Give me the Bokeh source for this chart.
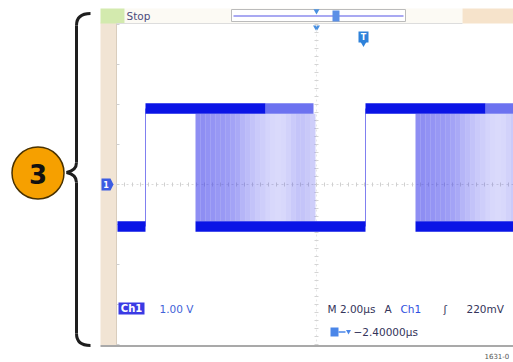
import numpy as np
from bokeh.plotting import figure
from bokeh.models import Range1d
from bokeh.embed import file_html
from bokeh.resources import INLINE
from bokeh.core.properties import value

# ---------------- data ----------------
# time in microseconds from the left screen edge, 2.00 us/div; volts at 1.00 V/div
t_rise = [1.45, 12.45]            # rising edges
t_fall_start = [3.95, 14.95]      # earliest falling edge (start of jitter band)
t_fade = [7.45, 18.45]            # high level starts to thin out
t_fall_end = [9.85, 20.85]        # latest falling edge
v_high = 1.90
v_low = -1.05
band = 0.13                       # half thickness of the persistence trace (V)
# persistence density across the falling-edge jitter band, 0.25 us steps
jitter_density = [0.58, 0.58, 0.56, 0.55, 0.53, 0.52, 0.50, 0.47, 0.44,
                  0.38, 0.34, 0.31, 0.27, 0.25, 0.22, 0.20, 0.19, 0.20,
                  0.23, 0.27, 0.30, 0.30, 0.28, 0.25]
jitter_step = 0.25

ch_scale = "1.00 V"
time_scale = "M 2.00\u00b5s"
trig_src = "Ch1"
trig_level = "220mV"
h_pos = "\u22122.40000\u00b5s"
status = "Stop"
callout = "3"
fig_id = "1631-0"

# ---------------- helpers: picture pixels -> data units ----------------
def X(px):
    return (px - 116) / 20.0

def Y(py):
    return (184 - py) / 40.0

W, H = 513, 362
p = figure(width=W, height=H, output_backend="svg", toolbar_location=None,
           x_range=Range1d(X(0), X(513)), y_range=Range1d(Y(362), Y(0)),
           x_axis_location=None, y_axis_location=None, min_border=0)
p.grid.visible = False
p.outline_line_color = None
p.background_fill_color = "white"
p.border_fill_color = "white"

FONT = value("DejaVu Sans")

# ---------------- instrument frame ----------------
p.quad(left=X(100), right=X(116), bottom=Y(345), top=Y(22), fill_color="#F1E4D4", line_color=None)
p.segment(x0=X(116), y0=Y(22), x1=X(116), y1=Y(345), line_color="#D9CDBD", line_width=1)
p.quad(left=X(124), right=X(462), bottom=Y(23), top=Y(8), fill_color="#FCFAF4", line_color=None)
p.quad(left=X(100), right=X(124), bottom=Y(23), top=Y(8), fill_color="#D3EAAE", line_color=None)
p.quad(left=X(462), right=X(513), bottom=Y(23), top=Y(8), fill_color="#F6E3CB", line_color=None)
p.segment(x0=X(116), y0=Y(23), x1=X(462), y1=Y(23), line_color="#DDDDDD", line_width=1)
p.text(x=[X(126)], y=[Y(15.5)], text=[status], text_font=FONT, text_font_size="10.5px",
       text_color="#4C4C7C", text_baseline="middle", text_align="left")
p.quad(left=X(231), right=X(405), bottom=Y(21), top=Y(9), fill_color="white", line_color="#BBBBBB", line_width=1)
p.segment(x0=X(233), y0=Y(15.5), x1=X(403), y1=Y(15.5), line_color="#A9A9F2", line_width=2)
p.quad(left=X(332), right=X(339), bottom=Y(21), top=Y(10), fill_color="#5B8FE6", line_color=None)
p.scatter(x=[X(316)], y=[Y(10.5)], marker="inverted_triangle", size=6, fill_color="#4A90E0", line_color=None)
p.scatter(x=[X(316)], y=[Y(27)], marker="inverted_triangle", size=7, fill_color="#4A90E0", line_color=None)
p.quad(left=X(358), right=X(368), bottom=Y(42), top=Y(31), fill_color="#2F82DA", line_color=None)
p.scatter(x=[X(363)], y=[Y(43)], marker="inverted_triangle", size=6, fill_color="#2F82DA", line_color=None)
p.text(x=[X(363)], y=[Y(36.5)], text=["T"], text_font=FONT, text_font_size="8px", text_color="white",
       text_baseline="middle", text_align="center", text_font_style="bold")

# graticule (centre cross with minor ticks)
p.segment(x0=X(116), y0=0, x1=X(513), y1=0, line_color="#DADADA", line_width=1, line_dash="2 3")
p.segment(x0=10, y0=Y(24), x1=10, y1=Y(344), line_color="#E6E6E6", line_width=1, line_dash="2 3")
tx = np.arange(0, 20.01, 0.4)
p.segment(x0=tx, y0=-0.05, x1=tx, y1=0.05, line_color="#D0D0D0", line_width=1)
vy = np.arange(-4, 4.01, 0.2)
p.segment(x0=9.9, y0=vy, x1=10.1, y1=vy, line_color="#D4D4D4", line_width=1)
p.segment(x0=0, y0=vy[::5], x1=0.15, y1=vy[::5], line_color="#D0D0D0", line_width=1)

p.segment(x0=X(100), y0=Y(345.5), x1=X(513), y1=Y(345.5), line_color="#A9A9A9", line_width=2)

# ---------------- waveform ----------------
DARK = "#0A14E6"
JIT = "#3C3CEB"
for ts in t_fall_start:
    lefts = [ts + i * jitter_step for i in range(len(jitter_density))]
    rights = [l + jitter_step for l in lefts]
    p.quad(left=lefts, right=rights, bottom=v_low + band, top=v_high - band,
           fill_color=JIT, fill_alpha=jitter_density, line_color=None)
p.segment(x0=t_rise, y0=v_low, x1=t_rise, y1=v_high, line_color="#8080F0", line_width=1)
p.quad(left=t_rise, right=t_fade, bottom=v_high - band, top=v_high + band, fill_color=DARK, line_color=None)
p.quad(left=t_fade, right=t_fall_end, bottom=v_high - band, top=v_high + band,
       fill_color=DARK, fill_alpha=0.6, line_color=None)
low_left = [0.05] + t_fall_start
low_right = [t_rise[0], t_rise[1], 20.0]
p.quad(left=low_left, right=low_right, bottom=v_low - band, top=v_low + band, fill_color=DARK, line_color=None)

p.patch(x=[X(101), X(110), X(113), X(110), X(101)], y=[Y(178), Y(178), Y(184), Y(190), Y(190)],
        fill_color="#3C5CE2", line_color=None)
p.text(x=[X(105.5)], y=[Y(184)], text=["1"], text_font=FONT, text_font_size="8px", text_color="white",
       text_baseline="middle", text_align="center", text_font_style="bold")

# ---------------- readouts ----------------
p.quad(left=X(118), right=X(144), bottom=Y(314), top=Y(302), fill_color="#3A3AE4", line_color=None)
p.text(x=[X(131)], y=[Y(308)], text=["Ch1"], text_font=FONT, text_font_size="10px", text_color="white",
       text_baseline="middle", text_align="center", text_font_style="bold")
p.text(x=[X(159)], y=[Y(308)], text=[ch_scale], text_font=FONT, text_font_size="10.5px", text_color="#4262D8",
       text_baseline="middle", text_align="left")
p.text(x=[X(327)], y=[Y(308)], text=[time_scale], text_font=FONT, text_font_size="10.5px", text_color="#34345A",
       text_baseline="middle", text_align="left")
p.text(x=[X(384)], y=[Y(308)], text=["A"], text_font=FONT, text_font_size="10.5px", text_color="#34345A",
       text_baseline="middle", text_align="left")
p.text(x=[X(400)], y=[Y(308)], text=[trig_src], text_font=FONT, text_font_size="10.5px", text_color="#2F4FE0",
       text_baseline="middle", text_align="left")
p.text(x=[X(443)], y=[Y(308)], text=["\u0283"], text_font=FONT, text_font_size="10.5px", text_color="#34345A",
       text_baseline="middle", text_align="left")
p.text(x=[X(466)], y=[Y(308)], text=[trig_level], text_font=FONT, text_font_size="10.5px", text_color="#34345A",
       text_baseline="middle", text_align="left")
p.quad(left=X(330), right=X(338), bottom=Y(336), top=Y(327), fill_color="#4A86E8", line_color=None)
p.segment(x0=X(338), y0=Y(331.5), x1=X(345), y1=Y(331.5), line_color="#4A86E8", line_width=1.5)
p.scatter(x=[X(348)], y=[Y(331)], marker="inverted_triangle", size=5, fill_color="#4A86E8", line_color=None)
p.text(x=[X(353)], y=[Y(331.5)], text=[h_pos], text_font=FONT, text_font_size="10.5px", text_color="#34345A",
       text_baseline="middle", text_align="left")
p.text(x=[X(484)], y=[Y(355)], text=[fig_id], text_font=FONT, text_font_size="7px", text_color="#555555",
       text_baseline="middle", text_align="left")

# ---------------- callout bracket and number ----------------
BR = "#1E1E1E"
p.quadratic(x0=[X(90)], y0=[Y(13)], x1=[X(76)], y1=[Y(25)], cx=[X(76)], cy=[Y(13)], line_color=BR, line_width=3)
p.segment(x0=X(76), y0=Y(25), x1=X(76), y1=Y(162), line_color=BR, line_width=3)
p.quadratic(x0=[X(76)], y0=[Y(162)], x1=[X(66)], y1=[Y(172)], cx=[X(76)], cy=[Y(170)], line_color=BR, line_width=3)
p.quadratic(x0=[X(66)], y0=[Y(172)], x1=[X(76)], y1=[Y(182)], cx=[X(76)], cy=[Y(174)], line_color=BR, line_width=3)
p.segment(x0=X(76), y0=Y(182), x1=X(76), y1=Y(333), line_color=BR, line_width=3)
p.quadratic(x0=[X(76)], y0=[Y(333)], x1=[X(90)], y1=[Y(345)], cx=[X(76)], cy=[Y(345)], line_color=BR, line_width=3)

p.scatter(x=[X(37.5)], y=[Y(172.5)], marker="circle", size=52, fill_color="#F6A000",
          line_color="#4A3200", line_width=1.5)
p.text(x=[X(37.5)], y=[Y(173.5)], text=[callout], text_font=FONT, text_font_size="26px", text_color="#111111",
       text_baseline="middle", text_align="center", text_font_style="bold")

open("out.html", "w").write(file_html(p, INLINE))
